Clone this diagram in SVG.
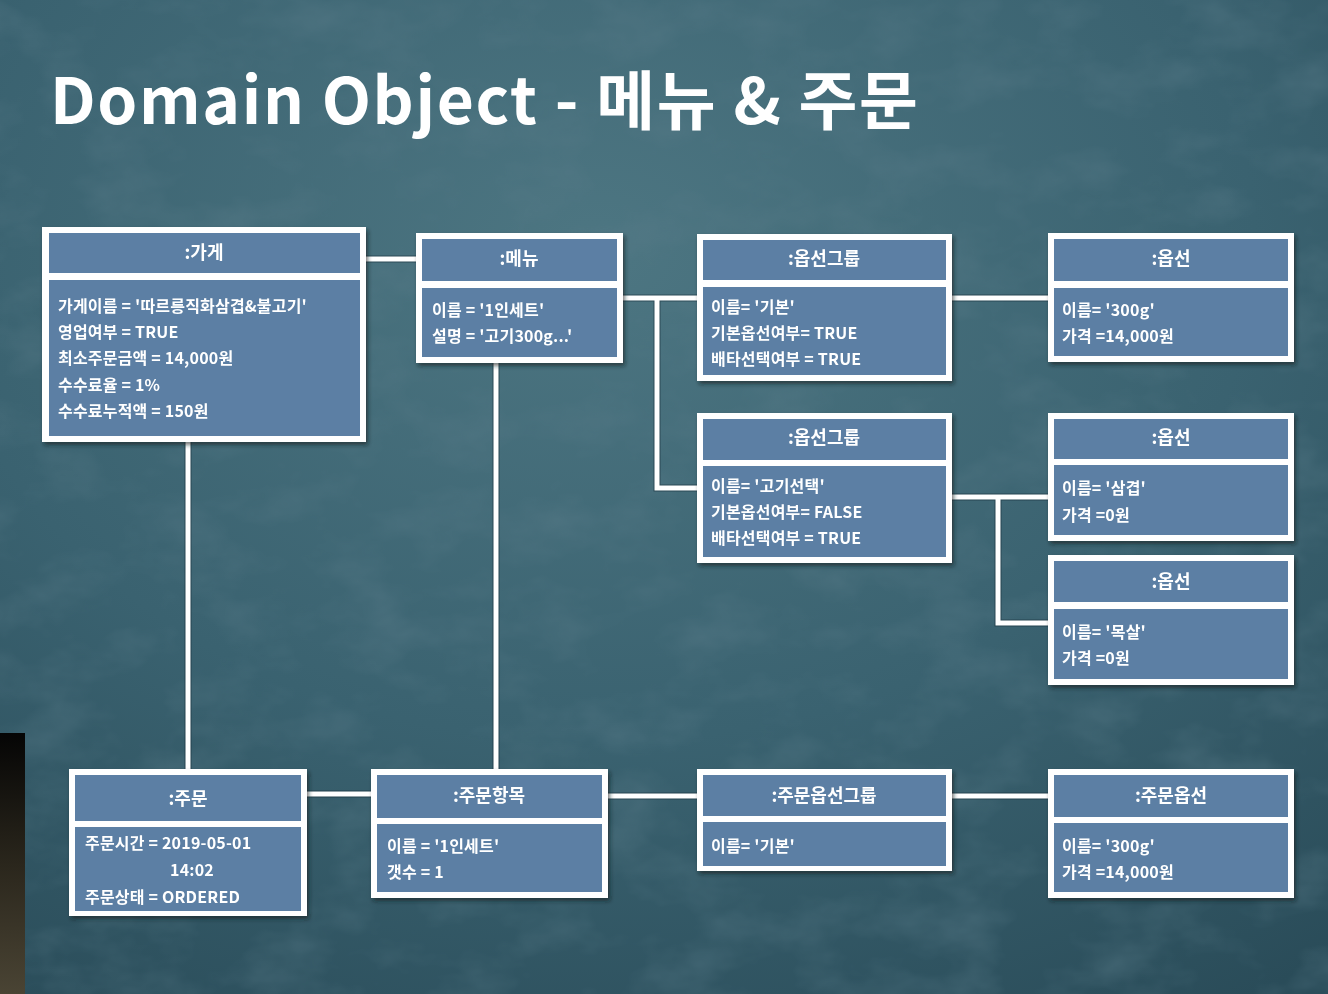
<svg xmlns="http://www.w3.org/2000/svg" width="1328" height="994" viewBox="0 0 1328 994">
<defs>
<radialGradient id="bg" cx="0.45" cy="0.25" r="0.9">
<stop offset="0" stop-color="#4d7682"/>
<stop offset="0.55" stop-color="#3a6270"/>
<stop offset="1" stop-color="#2a4c59"/>
</radialGradient>
<filter id="noise" x="0" y="0" width="100%" height="100%">
<feTurbulence type="fractalNoise" baseFrequency="0.012 0.02" numOctaves="4" seed="7" result="n"/>
<feColorMatrix type="matrix" values="0 0 0 0 0.1  0 0 0 0 0.2  0 0 0 0 0.25  0 0 0 -1.6 0.9" />
</filter>
<linearGradient id="strip" x1="0" y1="0" x2="0" y2="1">
<stop offset="0" stop-color="#050505"/>
<stop offset="0.5" stop-color="#2a261c"/>
<stop offset="1" stop-color="#4a4434"/>
</linearGradient>
<filter id="sh" x="-5%" y="-5%" width="112%" height="115%">
<feDropShadow dx="2" dy="3" stdDeviation="2" flood-color="#0b1a22" flood-opacity="0.6"/>
</filter>
<style>
.outer{fill:#ffffff;}
.cell{fill:#5b7fa4;}
.hd{font-family:"Noto Sans CJK KR","Noto Sans",sans-serif;font-weight:700;font-size:18px;fill:#ffffff;text-anchor:middle;}
.tx{font-family:"Noto Sans CJK KR","Noto Sans",sans-serif;font-weight:700;font-size:16px;fill:#ffffff;letter-spacing:0.2px;}
.ln{stroke:#ffffff;stroke-width:5;fill:none;}
.lnb{stroke:#0f2530;stroke-width:7;fill:none;opacity:0.5;}
.title{font-family:"Noto Sans CJK KR","Noto Sans",sans-serif;font-weight:700;font-size:64px;fill:#ffffff;}
</style>
</defs>
<rect x="0" y="0" width="1328" height="994" fill="url(#bg)"/>
<rect x="0" y="0" width="1328" height="994" filter="url(#noise)" opacity="0.55"/>
<rect x="0" y="733" width="25" height="261" fill="url(#strip)"/>
<text class="title" x="50" y="124" textLength="868" lengthAdjust="spacing">Domain Object - 메뉴 &amp; 주문</text>

<g id="connectors">
<path class="lnb" d="M366 259 H416 M188 442 V769 M496 363 V769 M623 298 H697 M657 298 V488 H697 M952 298 H1048 M952 497 H1048 M998 497 V623 H1048 M307 794 H371 M608 796 H697 M952 796 H1048"/>
<path class="ln" d="M366 259 H416 M188 442 V769 M496 363 V769 M623 298 H697 M657 298 V488 H697 M952 298 H1048 M952 497 H1048 M998 497 V623 H1048 M307 794 H371 M608 796 H697 M952 796 H1048"/>
</g>

<g id="store" filter="url(#sh)">
<rect class="outer" x="42" y="227" width="324" height="215"/>
<rect class="cell" x="49" y="233" width="311" height="40"/>
<rect class="cell" x="49" y="280" width="311" height="156"/>
<text class="hd" x="204" y="259">:가게</text>
<text class="tx" x="58" y="312">가게이름 =  '따르릉직화삼겹&amp;불고기'</text>
<text class="tx" x="58" y="338">영업여부 = TRUE</text>
<text class="tx" x="58" y="364">최소주문금액 = 14,000원</text>
<text class="tx" x="58" y="391">수수료율 = 1%</text>
<text class="tx" x="58" y="417">수수료누적액 = 150원</text>
</g>

<g id="menu" filter="url(#sh)">
<rect class="outer" x="416" y="233" width="207" height="130"/>
<rect class="cell" x="422" y="239" width="195" height="42"/>
<rect class="cell" x="422" y="288" width="195" height="69"/>
<text class="hd" x="519" y="265">:메뉴</text>
<text class="tx" x="432" y="316">이름 = '1인세트'</text>
<text class="tx" x="432" y="342">설명 = '고기300g...'</text>
</g>

<g id="optgroup1" filter="url(#sh)">
<rect class="outer" x="697" y="234" width="255" height="147"/>
<rect class="cell" x="703" y="240" width="243" height="40"/>
<rect class="cell" x="703" y="287" width="243" height="88"/>
<text class="hd" x="824" y="265">:옵선그룹</text>
<text class="tx" x="711" y="313">이름=  '기본'</text>
<text class="tx" x="711" y="339">기본옵선여부= TRUE</text>
<text class="tx" x="711" y="365">배타선택여부 = TRUE</text>
</g>

<g id="optgroup2" filter="url(#sh)">
<rect class="outer" x="697" y="413" width="255" height="150"/>
<rect class="cell" x="703" y="419" width="243" height="41"/>
<rect class="cell" x="703" y="466" width="243" height="91"/>
<text class="hd" x="824" y="444">:옵선그룹</text>
<text class="tx" x="711" y="492">이름=  '고기선택'</text>
<text class="tx" x="711" y="518">기본옵선여부= FALSE</text>
<text class="tx" x="711" y="544">배타선택여부 = TRUE</text>
</g>

<g id="option1" filter="url(#sh)">
<rect class="outer" x="1048" y="233" width="246" height="129"/>
<rect class="cell" x="1054" y="239" width="234" height="42"/>
<rect class="cell" x="1054" y="288" width="234" height="68"/>
<text class="hd" x="1171" y="265">:옵선</text>
<text class="tx" x="1062" y="316">이름=  '300g'</text>
<text class="tx" x="1062" y="342">가격 =14,000원</text>
</g>

<g id="option2" filter="url(#sh)">
<rect class="outer" x="1048" y="413" width="246" height="128"/>
<rect class="cell" x="1054" y="419" width="234" height="40"/>
<rect class="cell" x="1054" y="465" width="234" height="70"/>
<text class="hd" x="1171" y="444">:옵선</text>
<text class="tx" x="1062" y="494">이름=  '삼겹'</text>
<text class="tx" x="1062" y="521">가격 =0원</text>
</g>

<g id="option3" filter="url(#sh)">
<rect class="outer" x="1048" y="555" width="246" height="130"/>
<rect class="cell" x="1054" y="561" width="234" height="41"/>
<rect class="cell" x="1054" y="609" width="234" height="70"/>
<text class="hd" x="1171" y="588">:옵선</text>
<text class="tx" x="1062" y="638">이름=  '목살'</text>
<text class="tx" x="1062" y="664">가격 =0원</text>
</g>

<g id="order" filter="url(#sh)">
<rect class="outer" x="69" y="769" width="238" height="147"/>
<rect class="cell" x="75" y="775" width="226" height="46"/>
<rect class="cell" x="75" y="827" width="226" height="84"/>
<text class="hd" x="188" y="805">:주문</text>
<text class="tx" x="85" y="849">주문시간 = 2019-05-01</text>
<text class="tx" x="192" y="876" text-anchor="middle">14:02</text>
<text class="tx" x="85" y="903">주문상태 = ORDERED</text>
</g>

<g id="orderitem" filter="url(#sh)">
<rect class="outer" x="371" y="769" width="237" height="129"/>
<rect class="cell" x="377" y="775" width="225" height="43"/>
<rect class="cell" x="377" y="824" width="225" height="68"/>
<text class="hd" x="489" y="802">:주문항목</text>
<text class="tx" x="387" y="852">이름 = '1인세트'</text>
<text class="tx" x="387" y="878">갯수 = 1</text>
</g>

<g id="orderoptgroup" filter="url(#sh)">
<rect class="outer" x="697" y="769" width="255" height="102"/>
<rect class="cell" x="703" y="775" width="243" height="41"/>
<rect class="cell" x="703" y="822" width="243" height="44"/>
<text class="hd" x="824" y="802">:주문옵선그룹</text>
<text class="tx" x="711" y="852">이름=  '기본'</text>
</g>

<g id="orderoption" filter="url(#sh)">
<rect class="outer" x="1048" y="769" width="246" height="129"/>
<rect class="cell" x="1054" y="775" width="234" height="42"/>
<rect class="cell" x="1054" y="823" width="234" height="69"/>
<text class="hd" x="1171" y="802">:주문옵선</text>
<text class="tx" x="1062" y="852">이름=  '300g'</text>
<text class="tx" x="1062" y="878">가격 =14,000원</text>
</g>
</svg>
